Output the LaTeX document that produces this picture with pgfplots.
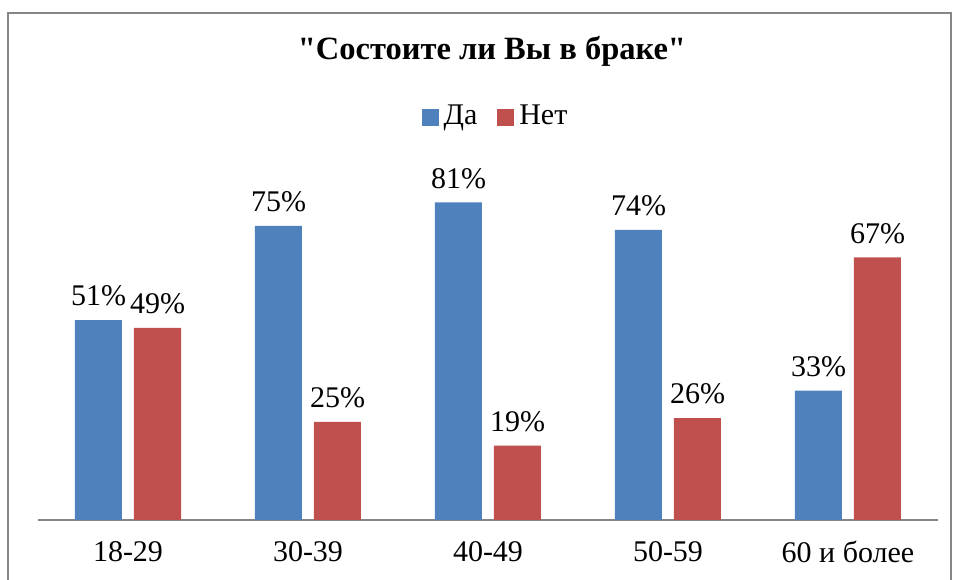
\documentclass[border=0pt]{standalone}
\usepackage{fontspec}
\setmainfont{Liberation Serif}[Ligatures=TeXOff]
\usepackage{pgfplots}
\pgfplotsset{compat=1.18}
\definecolor{cblue}{HTML}{4F81BD}
\definecolor{cred}{HTML}{C0504D}
\definecolor{cframe}{HTML}{868686}

\begin{document}
\begin{tikzpicture}[x=0.4pt,y=0.4pt]
\useasboundingbox (0,0) rectangle (956,580);
% chart frame, cut off at the bottom
\draw[cframe, line width=1pt] (8,0) -- (8,567) -- (951,567) -- (951,0);
\node[font=\fontsize{13}{15}\selectfont\bfseries] at (492,529) {"Состоите ли Вы в браке"};
\begin{axis}[
    at={(15.2pt,24pt)}, anchor=south west,
    scale only axis,
    width=360pt, height=156.8pt,
    ybar=4.8pt,
    bar width=18.8pt,
    xmin=-0.5, xmax=4.5,
    ymin=0, ymax=100,
    axis x line=bottom,
    axis y line=none,
    axis line style={-, draw=cframe, line width=0.5pt},
    xtick=data,
    xticklabels={18-29,30-39,40-49,50-59,60 и более},
    major tick length=0pt,
    xticklabel style={font=\fontsize{12}{14}\selectfont, yshift=-5pt},
    /pgf/number format/assume math mode=true,
    nodes near coords={\pgfmathprintnumber{\pgfplotspointmeta}\%},
    every node near coord/.append style={font=\fontsize{12}{14}\selectfont, black, yshift=2pt},
    legend columns=2,
    legend style={at={(0.51,1.028)}, anchor=center, draw=none, fill=none,
        font=\fontsize{12}{14}\selectfont,
        /tikz/every even column/.append style={column sep=6pt}},
    legend image code/.code={\fill[#1] (0pt,-3.4pt) rectangle (6.8pt,3.4pt);},
]
\addplot[fill=cblue, draw=none] coordinates {(0,51) (1,75) (2,81) (3,74) (4,33)};
\addlegendentry{Да}
\addplot[fill=cred, draw=none] coordinates {(0,49) (1,25) (2,19) (3,26) (4,67)};
\addlegendentry{Нет}
\end{axis}
\end{tikzpicture}
\end{document}
